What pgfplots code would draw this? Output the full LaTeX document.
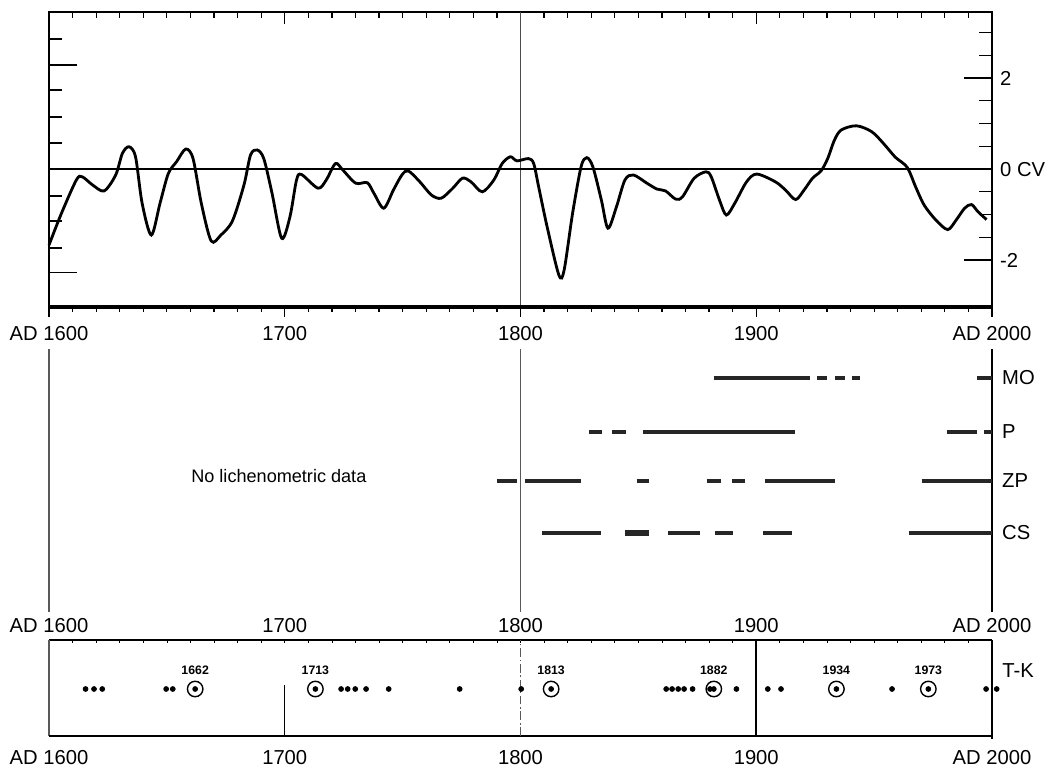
\documentclass[border=0pt]{standalone}
\usepackage{fontspec}
\setmainfont{Liberation Sans}
\usepackage{pgfplots}
\pgfplotsset{compat=1.18}
\begin{document}
\begin{tikzpicture}
\useasboundingbox (-0.98cm,-9.2cm) rectangle (19.94cm,6.14cm);
\pgfplotsset{
  toppanel/.style={at={(0cm,0cm)}, anchor=south west, scale only axis, width=18.86cm, height=5.9cm,
    xmin=1600, xmax=2000, ymin=-3.03, ymax=3.45,
    tick style={black, line width=0.7pt},
    every tick label/.append style={font=\fontsize{11.5}{13}\selectfont}},
  lab/.style={every tick label/.append style={font=\fontsize{11.5}{13}\selectfont}},
}
% top x ticks (inward)
\begin{axis}[toppanel, hide y axis, axis line style={draw=none},
  xtick={1600,1700,...,2000}, minor xtick={1610,1620,...,1990},
  xtick pos=right, xticklabels={}, tick align=inside,
  major tick length=0.24cm, minor tick length=0.12cm]
\end{axis}
% bottom x ticks (outward) with labels
\begin{axis}[toppanel, hide y axis, axis line style={draw=none},
  xtick={1600,1700,...,2000}, minor xtick={1610,1620,...,1990},
  xtick pos=left, xticklabels={{AD 1600},1700,1800,1900,{AD 2000}},
  tick align=outside, major tick length=0.2cm, minor tick length=0.1cm,
  xticklabel style={yshift=-0.06cm}]
\end{axis}
% left y ticks
\begin{axis}[toppanel, hide x axis, axis line style={draw=none},
  ytick={-2.264,2.286}, minor ytick={-1.736,-1.143,-0.593,0.571,1.143,1.736,2.857},
  ytick pos=left, yticklabels={}, tick align=inside,
  major tick length=0.56cm, minor tick length=0.26cm]
\end{axis}
% main data panel
\begin{axis}[toppanel, axis line style={line width=0.7pt}, xtick=\empty,
  ytick={-2,0,2}, yticklabels={-2,0 CV,2},
  minor ytick={-1.5,-1,-0.5,0.5,1,1.5,2.5,3},
  ytick pos=right, yticklabel pos=right, tick align=inside,
  major tick length=0.56cm, minor tick length=0.26cm,
  yticklabel style={anchor=west, xshift=0.04cm}, clip=false]
\draw[gray!60!black, line width=0.6pt] (axis cs:1800,-3.03) -- (axis cs:1800,3.45);
\draw[line width=1.5pt] (axis cs:1600,0) -- (axis cs:2000,0);
\draw[line width=1.8pt] (rel axis cs:0,0) -- (rel axis cs:1,0);
\addplot[line width=1.6pt, smooth, black] coordinates {
(1600,-1.67) (1605.3,-0.97) (1611.6,-0.24) (1614.1,-0.17) (1618.5,-0.35) (1623.4,-0.48)
(1628.3,-0.13) (1631.1,0.34) (1633.9,0.49) (1636.7,0.27) (1639.5,-0.75) (1643.4,-1.45)
(1647.1,-0.75) (1650.6,-0.10) (1654.1,0.16) (1658.0,0.44) (1661.1,0.23) (1664.6,-0.75)
(1668.8,-1.58) (1672.9,-1.45) (1677.8,-1.14) (1682.7,-0.35) (1685.5,0.31) (1688.3,0.42)
(1691.1,0.23) (1694.6,-0.53) (1698.7,-1.52) (1702.2,-1.05) (1705.0,-0.24) (1707.1,-0.12)
(1714.1,-0.42) (1717.6,-0.24) (1721.5,0.12) (1724.6,-0.02) (1730.1,-0.31) (1735.0,-0.30)
(1737.8,-0.53) (1742.0,-0.86) (1746.1,-0.46) (1749.7,-0.13) (1752.4,-0.04) (1757.3,-0.28)
(1762.2,-0.57) (1766.4,-0.64) (1771.3,-0.42) (1775.4,-0.20) (1779.0,-0.28) (1783.8,-0.50)
(1788.7,-0.24) (1792.2,0.12) (1795.7,0.27) (1798.5,0.18) (1803.4,0.23) (1805.6,0.12)
(1807.7,-0.39) (1811.3,-1.27) (1816.3,-2.33) (1818.5,-2.22) (1822.1,-0.97) (1825.7,0.05)
(1828.1,0.25) (1830.7,0.05) (1834.3,-0.68) (1837.1,-1.30) (1840.7,-0.83) (1844.3,-0.24)
(1847.9,-0.13) (1853.6,-0.31) (1857.9,-0.44) (1861.5,-0.48) (1865.8,-0.66) (1868.7,-0.61)
(1873.7,-0.20) (1878.7,-0.06) (1880.9,-0.17) (1884.4,-0.68) (1887.3,-1.01) (1890.9,-0.75)
(1895.9,-0.28) (1900.2,-0.11) (1908.1,-0.28) (1912.4,-0.46) (1916.7,-0.67) (1920.3,-0.46)
(1923.9,-0.20) (1927.5,-0.04) (1930.3,0.23) (1933.2,0.64) (1936.1,0.86) (1942.5,0.95)
(1949.0,0.82) (1954.0,0.56) (1959.0,0.26) (1964.0,0.04) (1967.6,-0.39) (1971.2,-0.79)
(1976.2,-1.12) (1981.2,-1.33) (1984.8,-1.12) (1988.4,-0.86) (1991.3,-0.78) (1994.1,-0.94)
(1997.7,-1.11)
};
\end{axis}
% middle panel
\begin{axis}[lab, at={(0cm,-6.1cm)}, anchor=south west, scale only axis, width=18.86cm, height=5.26cm,
  xmin=1600, xmax=2000, ymin=0, ymax=263, axis line style={draw=none}, major tick length=0pt,
  xtick={1600,1700,...,2000}, xticklabels={{AD 1600},1700,1800,1900,{AD 2000}}, xtick pos=left,
  ytick={79,131,180,234}, yticklabels={CS,ZP,P,MO}, ytick pos=right, yticklabel pos=right,
  yticklabel style={anchor=west, xshift=0.08cm},
  unbounded coords=jump, clip=false]
\draw[gray!70!black, line width=0.6pt] (axis cs:1600,0) -- (axis cs:1600,263);
\draw[gray!70!black, line width=0.6pt] (axis cs:1800,0) -- (axis cs:1800,263);
\draw[black, line width=0.9pt] (axis cs:2000,0) -- (axis cs:2000,263);
\node[font=\fontsize{10.3}{12}\selectfont] at (axis cs:1697.5,136) {No lichenometric data};
\addplot[line width=1.8pt, black!85] coordinates {
(1881.9,234) (1922.8,234) (1922.8,nan)
(1925.9,234) (1929.8,234) (1929.8,nan)
(1933.6,234) (1937.5,234) (1937.5,nan)
(1940.6,234) (1944.1,234) (1944.1,nan)
(1993.8,234) (2000,234)};
\addplot[line width=1.8pt, black!85] coordinates {
(1829.2,180) (1834.5,180) (1834.5,nan)
(1838.9,180) (1844.6,180) (1844.6,nan)
(1852.1,180) (1916.6,180) (1916.6,nan)
(1980.7,180) (1993.5,180) (1993.5,nan)
(1996.6,180) (2000,180)};
\addplot[line width=1.8pt, black!85] coordinates {
(1789.9,131) (1798.4,131) (1798.4,nan)
(1802.0,131) (1825.6,131) (1825.6,nan)
(1849.3,131) (1854.7,131) (1854.7,nan)
(1878.9,131) (1885.2,131) (1885.2,nan)
(1889.8,131) (1895.3,131) (1895.3,nan)
(1903.8,131) (1933.3,131) (1933.3,nan)
(1970.2,131) (2000,131)};
\addplot[line width=1.8pt, black!85] coordinates {
(1809.3,79) (1834.2,79) (1834.2,nan)
(1862.5,79) (1876.1,79) (1876.1,nan)
(1882.4,79) (1890.1,79) (1890.1,nan)
(1902.9,79) (1915.3,79) (1915.3,nan)
(1964.7,79) (2000,79)};
\addplot[line width=3pt, black!85] coordinates {(1844.3,79) (1854.7,79)};
\end{axis}
% bottom panel
\begin{axis}[lab, at={(0cm,-8.58cm)}, anchor=south west, scale only axis, width=18.86cm, height=1.92cm,
  xmin=1600, xmax=2000, ymin=0, ymax=96, axis line style={draw=none},
  xtick={1600,1700,...,2000}, minor xtick={1610,1620,...,1990},
  xticklabels={{AD 1600},1700,1800,1900,{AD 2000}},
  xtick pos=right, xticklabel pos=left, tick align=inside,
  major tick length=0.05cm, minor tick length=0.05cm,
  tick style={line width=0.4pt, black},
  xticklabel style={yshift=-0.16cm},
  ytick=\empty, clip=false]
\draw[black, line width=0.8pt] (axis cs:1600,96) -- (axis cs:2000,96);
\draw[gray!70!black, line width=0.6pt] (axis cs:1600,0) -- (axis cs:1600,96);
\draw[black, line width=1.1pt] (axis cs:2000,-3) -- (axis cs:2000,96);
\draw[black, line width=0.6pt] (axis cs:1600,0) -- (axis cs:2000,0);
\draw[black, line width=1.4pt] (axis cs:1614,0) -- (axis cs:2000,0);
\draw[black, line width=0.5pt] (axis cs:1700,0) -- (axis cs:1700,51);
\draw[gray!70!black, line width=0.5pt, dash pattern=on 5pt off 1.5pt on 1pt off 1.5pt] (axis cs:1800,0) -- (axis cs:1800,96);
\draw[black, line width=0.9pt] (axis cs:1900,0) -- (axis cs:1900,96);
\node[anchor=west, inner sep=0pt, font=\fontsize{11.5}{13}\selectfont] at ([xshift=0.2cm]rel axis cs:1,0.677) {T-K};
\addplot[only marks, mark=*, mark size=1.4pt, black] coordinates {
(1615.5,47) (1619.1,47) (1622.6,47) (1649.7,47) (1652.5,47) (1662,47) (1713,47)
(1723.9,47) (1726.7,47) (1729.9,47) (1734.5,47) (1744.1,47) (1774.2,47) (1800.3,47)
(1813,47) (1861.8,47) (1864.3,47) (1866.9,47) (1869.4,47) (1873.0,47) (1880.4,47)
(1882,47) (1891.6,47) (1904.9,47) (1910.5,47) (1934,47) (1957.6,47) (1973,47)
(1997.5,47) (2002,47)};
\addplot[only marks, mark=o, mark size=4.4pt, line width=0.8pt, black] coordinates {
(1662,47) (1713,47) (1813,47) (1882,47) (1934,47) (1973,47)};
\foreach \yr in {1662,1713,1813,1882,1934,1973}{
  \edef\tmp{\noexpand\node[font=\noexpand\fontsize{7}{8}\noexpand\selectfont\noexpand\bfseries] at (axis cs:\yr,66) {\yr};}
  \tmp
}
\end{axis}
\end{tikzpicture}
\end{document}
